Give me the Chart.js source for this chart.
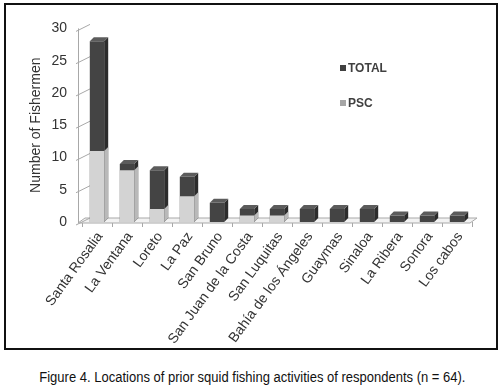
<!DOCTYPE html>
<html><head><meta charset="utf-8">
<script src="https://cdn.jsdelivr.net/npm/chart.js@4.4.1/dist/chart.umd.min.js"></script>
<style>
html,body{margin:0;padding:0;background:#fff;width:504px;height:388px;overflow:hidden;font-family:"Liberation Sans",Arial,sans-serif}
#frame{position:absolute;left:4px;top:3px;width:490px;height:343px;border:2px solid #111;}
#wrap{position:absolute;left:6px;top:5px;width:490px;height:343px}
.lg{position:absolute;font:bold 12px "Liberation Sans",Arial,sans-serif;color:#404040;line-height:14px;white-space:nowrap}
.lg i{display:inline-block;width:6px;height:6px;margin-right:2px;vertical-align:1px}
#cap{position:absolute;left:0;top:369px;width:504px;text-align:center;font:14px "Liberation Sans Narrow","Arial Narrow","Liberation Sans",sans-serif;color:#111;white-space:nowrap}
#cap span{display:inline-block;transform-origin:center}
</style></head>
<body>
<div id="frame"></div>
<div id="wrap"><canvas id="c"></canvas></div>
<div id="legend"></div>
<div id="cap"><span id="capt">Figure 4. Locations of prior squid fishing activities of respondents (n = 64).</span></div>
<script>
const categories = ["Santa Rosalia","La Ventana","Loreto","La Paz","San Bruno","San Juan de la Costa","San Luquitas","Bahía de los Ángeles","Guaymas","Sinaloa","La Ribera","Sonora","Los cabos"];
const totalValues = [28, 9, 8, 7, 3, 2, 2, 2, 2, 2, 1, 1, 1];
const pscValues   = [11, 8, 2, 4, 0, 1, 1, 0, 0, 0, 0, 0, 0];
const yTickStep = 5;
const yMax = 30;

const DEPTH_X = 4, DEPTH_Y = 4;
const seriesStyle = {
  TOTAL: {front:'#444444', side:'#2c2c2c', top:'#5c5c5c', key:'#404040'},
  PSC:   {front:'#d3d3d3', side:'#b9b9b9', top:'#e6e6e6', key:'#a6a6a6'}
};

const threeD = {
  id:'threeD',
  beforeDatasetsDraw(chart){
    const ctx = chart.ctx, ca = chart.chartArea, ys = chart.scales.y;
    const z = ys.getPixelForValue(0);
    const Lx = ca.left - 4;
    ctx.save();
    ctx.fillStyle = '#f2f2f2'; ctx.strokeStyle = '#a8a8a8'; ctx.lineWidth = 1;
    ctx.beginPath();
    ctx.moveTo(Lx, z + 1); ctx.lineTo(ca.right - 2, z + 1);
    ctx.lineTo(ca.right + 5, z - 4); ctx.lineTo(Lx + 7, z - 4); ctx.closePath();
    ctx.fill(); ctx.stroke();
    ctx.beginPath(); ctx.moveTo(Lx + 0.5, ca.top); ctx.lineTo(Lx + 0.5, z + 1); ctx.stroke();
    ys.ticks.forEach(t => {
      const y = ys.getPixelForValue(t.value);
      ctx.beginPath(); ctx.moveTo(Lx - 2, y + 3); ctx.lineTo(Lx + 12, y - 4); ctx.stroke();
    });
    ctx.restore();
  },
  afterDatasetsDraw(chart){
    const ctx = chart.ctx;
    const mT = chart.getDatasetMeta(0), mP = chart.getDatasetMeta(1);
    ctx.save();
    mT.data.forEach((bar, i) => {
      const {x, y, base, width} = bar.getProps(['x','y','base','width'], true);
      const l = x - width/2, r = x + width/2;
      const st = seriesStyle.TOTAL;
      ctx.fillStyle = st.side;
      ctx.beginPath(); ctx.moveTo(r, y); ctx.lineTo(r + DEPTH_X, y - DEPTH_Y); ctx.lineTo(r + DEPTH_X, base - DEPTH_Y); ctx.lineTo(r, base); ctx.closePath(); ctx.fill();
      ctx.fillStyle = st.top;
      ctx.beginPath(); ctx.moveTo(l, y); ctx.lineTo(l + DEPTH_X, y - DEPTH_Y); ctx.lineTo(r + DEPTH_X, y - DEPTH_Y); ctx.lineTo(r, y); ctx.closePath(); ctx.fill();
      const pb = mP.data[i].getProps(['x','y','base','width'], true);
      if (pscValues[i] > 0) {
        const sp = seriesStyle.PSC;
        ctx.fillStyle = sp.side;
        ctx.beginPath(); ctx.moveTo(r, pb.y); ctx.lineTo(r + DEPTH_X, pb.y - DEPTH_Y); ctx.lineTo(r + DEPTH_X, base - DEPTH_Y); ctx.lineTo(r, base); ctx.closePath(); ctx.fill();
        if (pscValues[i] >= totalValues[i]) {
          ctx.fillStyle = sp.top;
          ctx.beginPath(); ctx.moveTo(l, pb.y); ctx.lineTo(l + DEPTH_X, pb.y - DEPTH_Y); ctx.lineTo(r + DEPTH_X, pb.y - DEPTH_Y); ctx.lineTo(r, pb.y); ctx.closePath(); ctx.fill();
        }
      }
    });
    ctx.restore();
  }
};

const chart = new Chart(document.getElementById('c'), {
  type:'bar',
  data:{
    labels: categories,
    datasets:[
      {label:'TOTAL', data: totalValues, backgroundColor: seriesStyle.TOTAL.front, grouped:false, order:1, barPercentage:0.48, categoryPercentage:1},
      {label:'PSC', data: pscValues, backgroundColor: seriesStyle.PSC.front, grouped:false, order:0, barPercentage:0.48, categoryPercentage:1}
    ]
  },
  options:{
    responsive:true, maintainAspectRatio:false, animation:false,
    layout:{padding:{top:21, right:24, left:0, bottom:0}},
    plugins:{legend:{display:false}, tooltip:{enabled:false}},
    scales:{
      x:{
        grid:{display:true, drawOnChartArea:false, drawTicks:true, tickLength:5, offset:true, color:'#a8a8a8'},
        border:{display:false},
        ticks:{color:'#333', font:{family:'"Liberation Sans", Arial, sans-serif', size:14}, minRotation:54, maxRotation:54, padding:2, labelOffset:3, autoSkip:false},
        afterFit(s){ s.height = 126; }
      },
      y:{
        min:0, max:yMax,
        grid:{display:false, drawTicks:false},
        border:{display:false},
        ticks:{stepSize:yTickStep, color:'#333', font:{family:'"Liberation Sans", Arial, sans-serif', size:14}, padding:15},
        title:{display:true, text:'Number of Fishermen', color:'#333', font:{family:'"Liberation Sans", Arial, sans-serif', size:14}, padding:{top:22, bottom:0}},
        afterFit(s){ s.width = 76; }
      }
    }
  },
  plugins:[threeD]
});

const legend = document.getElementById('legend');
[['TOTAL', 61], ['PSC', 96]].forEach(([name, top]) => {
  const d = document.createElement('div');
  d.className = 'lg'; d.style.left = '340px'; d.style.top = top + 'px';
  d.innerHTML = '<i style="background:' + seriesStyle[name].key + '"></i>' + name;
  legend.appendChild(d);
});

const capt = document.getElementById('capt');
const w = capt.getBoundingClientRect().width;
if (w > 0) capt.style.transform = 'scaleX(' + (426 / w).toFixed(3) + ')';
</script>
</body></html>
